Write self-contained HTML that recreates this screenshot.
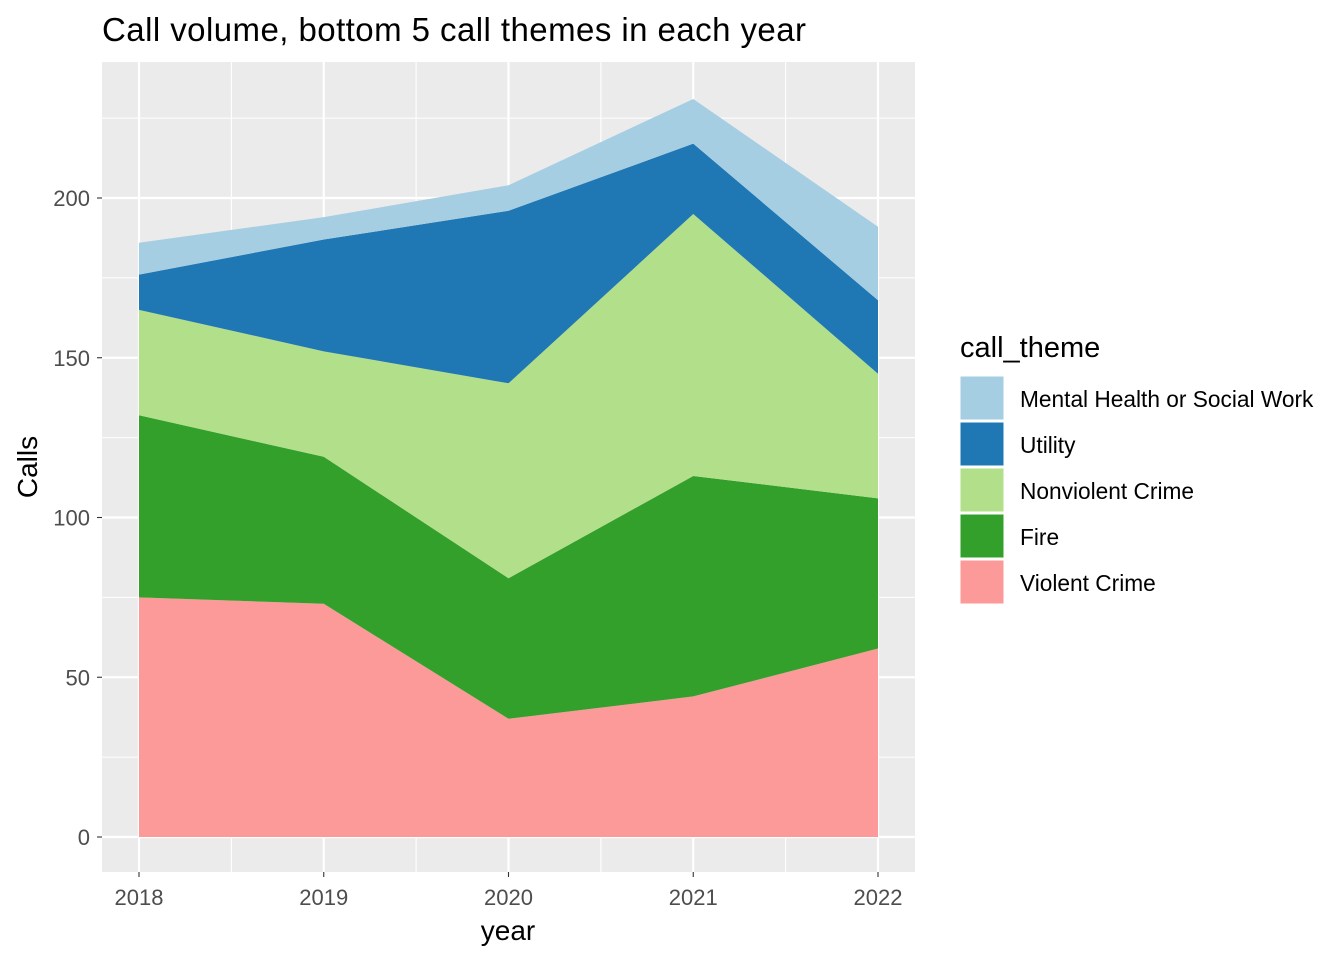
<!DOCTYPE html>
<html><head><meta charset="utf-8"><style>
body{margin:0;background:#fff;}
svg text{font-family:"Liberation Sans",Arial,sans-serif;}
</style></head><body>
<svg id="chart" width="1344" height="960" xmlns="http://www.w3.org/2000/svg">
<rect width="1344" height="960" fill="#fff"/>
<text x="102" y="41" font-size="33" fill="#000" textLength="704">Call volume, bottom 5 call themes in each year</text>
<rect x="102" y="62" width="813" height="810" fill="#ebebeb"/>
<g id="grid"></g>
<g id="areas"></g>
<g id="axes"></g>
<text x="0" y="0" transform="translate(37,467) rotate(-90)" text-anchor="middle" font-size="28" fill="#000">Calls</text>
<text x="508" y="940" text-anchor="middle" font-size="28" fill="#000">year</text>
<g id="legend">
<text x="960" y="357" font-size="29" fill="#000">call_theme</text>
</g>
</svg>
<script>
const years = [2018, 2019, 2020, 2021, 2022];
const seriesNames = ["Violent Crime", "Fire", "Nonviolent Crime", "Utility", "Mental Health or Social Work"];
const violentCrime = [75, 73, 37, 44, 59];
const fire = [57, 46, 44, 69, 47];
const nonviolentCrime = [33, 33, 61, 82, 39];
const utility = [11, 35, 54, 22, 23];
const mentalHealth = [10, 7, 8, 14, 23];
const colors = ["#fb9a99", "#33a02c", "#b2df8a", "#1f78b4", "#a6cee3"];
const yTicks = [0, 50, 100, 150, 200];
const xTicks = [2018, 2019, 2020, 2021, 2022];

const NS = "http://www.w3.org/2000/svg";
const px0 = 102, px1 = 915, py0 = 62, py1 = 872;
const xScale = v => 139 + (v - 2018) * 184.75;
const yScale = v => 837 - v * 3.195;
function mk(tag, attrs, parent) {
  const e = document.createElementNS(NS, tag);
  for (const k in attrs) e.setAttribute(k, attrs[k]);
  parent.appendChild(e);
  return e;
}
const grid = document.getElementById("grid");
for (let i = 0; i < yTicks.length; i++) {
  const m = yTicks[i] + 25;
  const l = mk("line", {x1: px0, x2: px1, y1: yScale(m), y2: yScale(m), stroke: "#fff", "stroke-width": 1.1}, grid);
  
  
}
for (let i = 0; i < xTicks.length - 1; i++) {
  const m = (xTicks[i] + xTicks[i + 1]) / 2;
  const l = mk("line", {x1: xScale(m), x2: xScale(m), y1: py0, y2: py1, stroke: "#fff", "stroke-width": 1.1}, grid);
  
  
}
yTicks.forEach(v => {
  const l = mk("line", {x1: px0, x2: px1, y1: yScale(v), y2: yScale(v), stroke: "#fff", "stroke-width": 2.2}, grid);
  
  
});
xTicks.forEach(v => {
  const l = mk("line", {x1: xScale(v), x2: xScale(v), y1: py0, y2: py1, stroke: "#fff", "stroke-width": 2.2}, grid);
  
  
});

const series = [violentCrime, fire, nonviolentCrime, utility, mentalHealth];
const areas = document.getElementById("areas");
let base = years.map(() => 0);
series.forEach((s, si) => {
  const top = base.map((b, i) => b + s[i]);
  let d = "";
  years.forEach((y, i) => { d += (i ? "L" : "M") + xScale(y) + "," + yScale(top[i]); });
  for (let i = years.length - 1; i >= 0; i--) d += "L" + xScale(years[i]) + "," + yScale(base[i]);
  d += "Z";
  const p = mk("path", {d: d, fill: colors[si]}, areas);
  
  
  base = top;
});

const axes = document.getElementById("axes");
yTicks.forEach(v => {
  const t = mk("line", {x1: px0 - 5, x2: px0, y1: yScale(v), y2: yScale(v), stroke: "#333", "stroke-width": 1.1}, axes);
  
  
  const tx = mk("text", {x: px0 - 12, y: yScale(v) + 8, "text-anchor": "end", "font-size": 22, fill: "#4d4d4d"}, axes);
  tx.textContent = v;
  
  
});
xTicks.forEach(v => {
  const t = mk("line", {x1: xScale(v), x2: xScale(v), y1: py1, y2: py1 + 5, stroke: "#333", "stroke-width": 1.1}, axes);
  
  
  const tx = mk("text", {x: xScale(v), y: py1 + 33, "text-anchor": "middle", "font-size": 22, fill: "#4d4d4d"}, axes);
  tx.textContent = v;
  
  
});

const legend = document.getElementById("legend");
for (let k = 0; k < 5; k++) {
  const si = 4 - k;
  const y = 376 + k * 46;
  const r = mk("rect", {x: 960, y: y, width: 44, height: 44, fill: colors[si], stroke: "#fff", "stroke-width": 1}, legend);
  
  
  const t = mk("text", {x: 1020, y: y + 31, "font-size": 22.7, fill: "#000"}, legend);
  t.textContent = seriesNames[si];
  
  
}
</script>
</body></html>
